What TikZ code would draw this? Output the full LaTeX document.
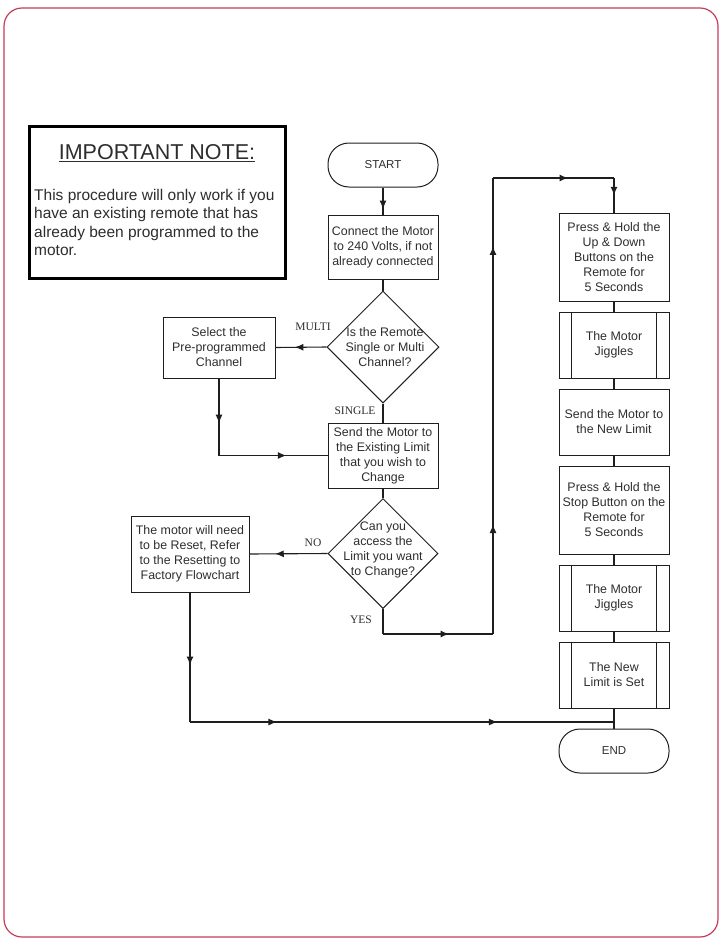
\documentclass[tikz,border=0pt]{standalone}
\usepackage{fontspec}
\setmainfont{Liberation Sans}
\newfontfamily\lblfont{Liberation Serif}
\usetikzlibrary{shapes.geometric,arrows.meta,decorations.markings,calc}
\definecolor{framec}{RGB}{200,60,90}
\definecolor{inkc}{RGB}{30,30,30}
\definecolor{txtc}{RGB}{45,45,45}
\begin{document}
\begin{tikzpicture}[x=1pt,y=-1pt,
  box/.style={draw=inkc,line width=1pt,rectangle,minimum width=110pt,inner sep=0pt,align=center,font=\fontsize{12.4}{15}\selectfont,text=txtc},
  term/.style={box,rounded corners=21pt,minimum height=44pt,font=\fontsize{11.5}{14}\selectfont},
  dia/.style={draw=inkc,line width=1pt,diamond,aspect=1,inner sep=0pt},
  diatext/.style={inner sep=0pt,align=center,font=\fontsize{12.4}{15}\selectfont,text=txtc},
  lbl/.style={inner sep=0pt,font=\lblfont\fontsize{11.5}{13}\selectfont,text=txtc},
  conn/.style={draw=inkc,line width=1.1pt},
  arr/.style={conn,postaction={decorate},decoration={markings,mark=at position #1 with {\arrow{Latex[length=8.5pt,width=7pt]}}}},
  arrtwo/.style 2 args={conn,postaction={decorate},decoration={markings,mark=at position #1 with {\arrow{Latex[length=8.5pt,width=7pt]}},mark=at position #2 with {\arrow{Latex[length=8.5pt,width=7pt]}}}}
]
\useasboundingbox (0,0) rectangle (721,940);
\draw[framec,line width=1.2pt,rounded corners=18pt] (4,8) rectangle (718,937);

% important note
\node[draw=black,line width=3.2pt,minimum width=256pt,minimum height=152pt,inner sep=0pt] (note) at (157.5,202.5) {};
\node[inner sep=0pt,font=\fontsize{21.5}{24}\selectfont,text=txtc] (notetitle) at (157,153) {\underline{IMPORTANT NOTE:}};
\node[inner sep=0pt,anchor=north west,align=left,font=\fontsize{15.5}{18.3}\selectfont,text=txtc] (notetext) at (34,189)
 {This procedure will only work if you\\have an existing remote that has\\already been programmed to the\\motor.};

% middle column
\node[term] (start) at (383,165) {START};
\node[box,minimum height=64pt] (connect) at (383,247) {Connect the Motor\\to 240 Volts, if not\\already connected};
\node[dia,minimum size=112pt] (d1) at (383,347) {};
\node[diatext] (d1t) at (385,347) {Is the Remote\\Single or Multi\\Channel?};
\node[box,minimum width=112pt,minimum height=61pt] (select) at (219,347.5) {Select the\\Pre-programmed\\Channel};
\node[box,minimum height=65pt] (send) at (383,455.5) {Send the Motor to\\the Existing Limit\\that you wish to\\Change};
\node[dia,minimum size=110pt] (d2) at (383,553.5) {};
\node[diatext] (d2t) at (383,549.5) {Can you\\access the\\Limit you want\\to Change?};
\node[box,minimum width=118pt,minimum height=76pt] (reset) at (190,554) {The motor will need\\to be Reset, Refer\\to the Resetting to\\Factory Flowchart};

% labels
\node[lbl] (lmulti) at (313,327) {MULTI};
\node[lbl] (lsingle) at (355,411) {SINGLE};
\node[lbl] (lno) at (313,543) {NO};
\node[lbl] (lyes) at (361,620) {YES};

% right column
\node[box,minimum height=88pt] (r1) at (614,257) {Press \& Hold the\\Up \& Down\\Buttons on the\\Remote for\\5 Seconds};
\node[box,minimum height=66pt] (r2) at (614,345) {The Motor\\Jiggles};
\node[box,minimum height=66pt] (r3) at (614,422) {Send the Motor to\\the New Limit};
\node[box,minimum height=88pt] (r4) at (614,510) {Press \& Hold the\\Stop Button on the\\Remote for\\5 Seconds};
\node[box,minimum height=66pt] (r5) at (614,598) {The Motor\\Jiggles};
\node[box,minimum height=66pt] (r6) at (614,675) {The New\\Limit is Set};
\node[term] (endn) at (614,751) {END};

% subprocess inner lines
\foreach \n in {r2,r5,r6}{
  \draw[inkc,line width=1pt] ([xshift=13pt]\n.north west) -- ([xshift=13pt]\n.south west);
  \draw[inkc,line width=1pt] ([xshift=-13pt]\n.north east) -- ([xshift=-13pt]\n.south east);
}

% coordinates
\coordinate (j1) at (select.south |- send.west);
\coordinate (y1) at (383,634);
\coordinate (y2) at (493,634);
\coordinate (y3) at (493,178);
\coordinate (y4) at (614,178);
\coordinate (n1) at (190,722);
\coordinate (m1) at (614,722);

% connectors
\draw[arr=0.8] (start.south) -- (connect.north);
\draw[conn] (connect.south) -- (d1.north);
\draw[arr=0.62] (d1.west) -- (select.east);
\draw[conn] (d1.south) -- (send.north);
\draw[arr=0.58] (select.south) -- (j1);
\draw[arr=0.62] (j1) -- (send.west);
\draw[conn] (send.south) -- (d2.north);
\draw[arr=0.67] (d2.west) -- (reset.east);
\draw[arr=0.56] (reset.south) -- (n1);
\draw[arrtwo={0.205}{0.725}] (n1) -- (m1);
\draw[conn] (d2.south) -- (y1);
\draw[arr=0.6] (y1) -- (y2);
\draw[arrtwo={0.24}{0.85}] (y2) -- (y3);
\draw[arr=0.62] (y3) -- (y4);
\draw[arr=0.5] (y4) -- (r1.north);
\draw[conn] (r1.south) -- (r2.north);
\draw[conn] (r2.south) -- (r3.north);
\draw[conn] (r3.south) -- (r4.north);
\draw[conn] (r4.south) -- (r5.north);
\draw[conn] (r5.south) -- (r6.north);
\draw[conn] (r6.south) -- (endn.north);
\end{tikzpicture}
\end{document}
